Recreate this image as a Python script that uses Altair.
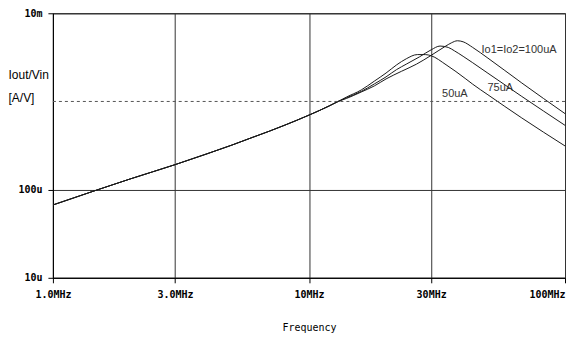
import math
import altair as alt
import pandas as pd

# ---- data (frequency in MHz, Iout/Vin in A/V) ----
freq_50 = [1, 1.5, 2, 3, 4, 5, 6, 7, 8, 10, 12, 13, 14, 16, 18, 20, 22, 24, 26.5, 28.5, 30, 34.3, 41, 43.6, 50, 67.8, 100]
val_50 = [6.7e-5, 1.0e-4, 1.32e-4, 1.92e-4, 2.55e-4, 3.2e-4, 3.9e-4, 4.6e-4, 5.35e-4, 7.0e-4, 8.9e-4, 1.0e-3, 1.12e-3,
          1.35e-3, 1.7e-3, 2.1e-3, 2.6e-3, 3.05e-3, 3.4e-3, 3.4e-3, 3.3e-3, 2.61e-3, 1.8e-3, 1.57e-3, 1.19e-3, 6.5e-4, 3.13e-4]

freq_75 = [1, 1.5, 2, 3, 4, 5, 6, 7, 8, 10, 12, 13, 14, 16, 18, 20, 22, 24, 27, 30, 32.5, 35, 37, 40, 43.6, 50, 67.8, 100]
val_75 = [6.7e-5, 1.0e-4, 1.32e-4, 1.92e-4, 2.55e-4, 3.2e-4, 3.9e-4, 4.6e-4, 5.35e-4, 7.0e-4, 8.9e-4, 1.0e-3, 1.1e-3,
          1.3e-3, 1.58e-3, 1.9e-3, 2.3e-3, 2.65e-3, 3.2e-3, 3.85e-3, 4.25e-3, 4.1e-3, 3.75e-3, 3.25e-3, 2.75e-3, 2.09e-3, 1.14e-3, 5.36e-4]

freq_100 = [1, 1.5, 2, 3, 4, 5, 6, 7, 8, 10, 12, 13, 14, 16, 18, 20, 23, 26.3, 30, 34, 36, 38, 40, 43.6, 50, 67.8, 100]
val_100 = [6.7e-5, 1.0e-4, 1.32e-4, 1.92e-4, 2.55e-4, 3.2e-4, 3.9e-4, 4.6e-4, 5.35e-4, 7.0e-4, 8.9e-4, 1.0e-3, 1.08e-3,
           1.28e-3, 1.5e-3, 1.8e-3, 2.2e-3, 2.65e-3, 3.33e-3, 4.2e-3, 4.62e-3, 4.88e-3, 4.75e-3, 4.1e-3, 3.1e-3, 1.62e-3, 7.28e-4]

series_names = ["50uA", "75uA", "100uA"]

# curve labels (text, frequency MHz, value)
label_texts = ["Io1=Io2=100uA", "75uA", "50uA"]
label_freq = [47.2, 49.8, 33.1]
label_val = [3.55e-3, 1.33e-3, 1.11e-3]

# axis ticks
x_tick_vals = [1e6, 3e6, 1e7, 3e7, 1e8]
x_tick_text = ["1.0MHz", "3.0MHz", "10MHz", "30MHz", "100MHz"]
y_tick_vals = [1e-5, 1e-4, 1e-2]
y_tick_text = ["10u", "100u", "10m"]
ref_line_val = [1e-3]

# ---- build tables ----
rows = []
for name, fs, vs in zip(series_names, [freq_50, freq_75, freq_100], [val_50, val_75, val_100]):
    for f, v in zip(fs, vs):
        rows.append({"series": name, "freq": f * 1e6, "val": v})
df = pd.DataFrame(rows)
df_lab = pd.DataFrame({"text": label_texts, "freq": [f * 1e6 for f in label_freq], "val": label_val})
df_ref = pd.DataFrame({"val": ref_line_val})


def log_label_expr(vals, texts):
    expr = "''"
    for v, t in reversed(list(zip(vals, texts))):
        expr = f"abs(log(datum.value) / log(10) - ({math.log10(v):.4f})) < 0.01 ? '{t}' : " + expr
    return expr


MONO = "DejaVu Sans Mono"
SANS = "Liberation Sans, Arial, sans-serif"

x_scale = alt.Scale(type="log", domain=[1e6, 1e8], nice=False)
y_scale = alt.Scale(type="log", domain=[1e-5, 1e-2], nice=False)

x_axis = alt.Axis(
    values=x_tick_vals,
    labelExpr=log_label_expr(x_tick_vals, x_tick_text),
    title="Frequency",
    titleFont=MONO, titleFontSize=10, titleFontWeight="normal", titleColor="#000",
    titlePadding=23,
    labelFont=MONO, labelFontSize=10, labelFontWeight="bold", labelColor="#000",
    labelPadding=7, labelFlush=False, labelOverlap=False,
    labelAlign={"condition": {"test": "datum.value >= 9.9e7", "value": "right"}, "value": "center"},
    tickSize=5, tickColor="#000", domainColor="#000",
    grid=True, gridColor="#333", gridOpacity=1, gridWidth=1,
)
y_axis = alt.Axis(
    values=y_tick_vals,
    labelExpr=log_label_expr(y_tick_vals, y_tick_text),
    title=["Iout/Vin", "[A/V]"],
    titleAngle=0, titleAlign="left", titleBaseline="alphabetic",
    titleX=-45, titleY=65, titleLineHeight=23,
    titleFont=SANS, titleFontSize=12, titleFontWeight="normal", titleColor="#000",
    labelFont=MONO, labelFontSize=10, labelFontWeight="bold", labelColor="#000",
    labelPadding=6, labelOverlap=False,
    tickSize=5, tickColor="#000", domainColor="#000",
    grid=True, gridColor="#333", gridOpacity=1, gridWidth=1,
)

lines = alt.Chart(df).mark_line(color="#1a1a1a", strokeWidth=1, interpolate="monotone", clip=True).encode(
    x=alt.X("freq:Q", scale=x_scale, axis=x_axis),
    y=alt.Y("val:Q", scale=y_scale, axis=y_axis),
    detail="series:N",
)

ref = alt.Chart(df_ref).mark_rule(color="#555", strokeWidth=1, strokeDash=[3, 3]).encode(
    y=alt.Y("val:Q", scale=y_scale),
)

labels = alt.Chart(df_lab).mark_text(
    align="left", baseline="alphabetic", font=SANS, fontSize=11, color="#333"
).encode(
    x=alt.X("freq:Q", scale=x_scale),
    y=alt.Y("val:Q", scale=y_scale),
    text="text:N",
)

chart = alt.layer(lines, ref, labels).properties(
    width=513, height=265,
    padding={"left": 0, "right": 0, "top": 0, "bottom": 0},
    background="white",
).configure_view(stroke="#000", strokeWidth=1)

chart.save("out.html", embed_options={"renderer": "svg", "actions": False})
